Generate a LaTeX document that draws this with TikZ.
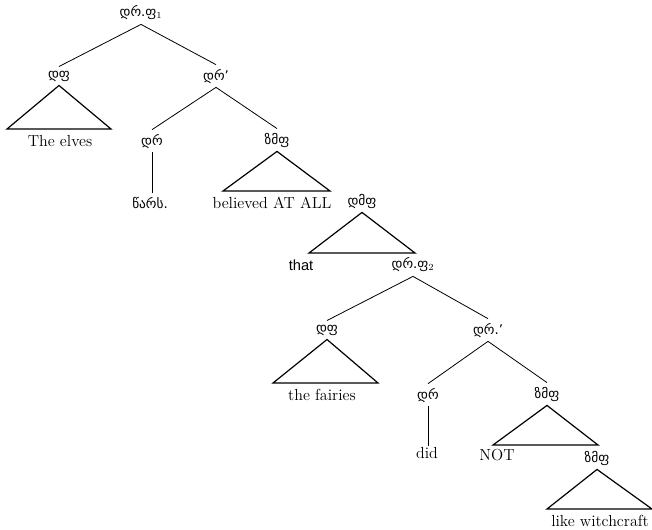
\documentclass[tikz,border=0pt]{standalone}
\usepackage{fontspec}
\newfontfamily\geo[Scale=1.0]{DejaVu Sans}
\newfontfamily\sansf{Liberation Sans}
\usetikzlibrary{positioning}
\tikzstyle{cat}    = [inner xsep=1pt, inner ysep=3pt, font=\geo]
\tikzstyle{word}   = [inner sep=1pt, font=\fontsize{12}{14}\selectfont]
\tikzstyle{branch} = [line width=0.6pt]
\tikzstyle{roof}   = [line width=0.9pt]

\begin{document}
\begin{tikzpicture}[x=0.75pt,y=-0.75pt]
		\useasboundingbox (0,0) rectangle (652,529);

		% categories
		\node[cat] (r1)   at (141,13)  {დრ.ფ$_1$};
		\node[cat] (np1)  at (59,76)   {დფ};
		\node[cat] (drp1) at (216,76)  {დრ’};
		\node[cat] (dr1)  at (152,141) {დრ};
		\node[cat] (vp1)  at (277,140) {ზმფ};
		\node[cat] (cp)   at (362,201) {დმფ};
		\node[cat] (r2)   at (413,265) {დრ.ფ$_2$};
		\node[cat] (np2)  at (327,330) {დფ};
		\node[cat] (drp2) at (488,330) {დრ.’};
		\node[cat] (dr2)  at (428,395) {დრ};
		\node[cat] (vp2)  at (547,394) {ზმფ};
		\node[cat] (vp3)  at (597,458) {ზმფ};

		% words
		\node[word] (elves)    at (60,141)  {The elves};
		\node[cat]  (past)     at (150,203) {წარს.};
		\node[word] (believed) at (272,203) {believed AT ALL};
		\node[word,font=\sansf\fontsize{11}{13}\selectfont] (that) at (301,265) {that};
		\node[word] (fairies)  at (322,395) {the fairies};
		\node[word] (did)      at (427,453) {did};
		\node[word] (notw)     at (497,455) {NOT};
		\node[word] (witch)    at (600,521) {like witchcraft};

		% roof corners
		\coordinate (np1l) at (7,129);   \coordinate (np1r) at (111,129);
		\coordinate (vp1l) at (223,191); \coordinate (vp1r) at (330,191);
		\coordinate (cpl)  at (309,253); \coordinate (cpr)  at (415,253);
		\coordinate (np2l) at (273,383); \coordinate (np2r) at (378,383);
		\coordinate (vp2l) at (493,445); \coordinate (vp2r) at (598,445);
		\coordinate (vp3l) at (547,509); \coordinate (vp3r) at (652,509);

		% branches
		\draw[branch] (np1.north) -- (r1.south) -- (drp1.north);
		\draw[branch] (dr1.north) -- (drp1.south) -- (vp1.north);
		\draw[branch] (dr1.south) -- (dr1.south |- past.north);
		\draw[branch] (np2.north) -- (r2.south) -- (drp2.north);
		\draw[branch] (dr2.north) -- (drp2.south) -- (vp2.north);
		\draw[branch] (dr2.south) -- (dr2.south |- did.north);

		% roofs
		\draw[roof] (np1.south) -- (np1l) -- (np1r) -- cycle;
		\draw[roof] (vp1.south) -- (vp1l) -- (vp1r) -- cycle;
		\draw[roof] (cp.south)  -- (cpl)  -- (cpr)  -- cycle;
		\draw[roof] (np2.south) -- (np2l) -- (np2r) -- cycle;
		\draw[roof] (vp2.south) -- (vp2l) -- (vp2r) -- cycle;
		\draw[roof] (vp3.south) -- (vp3l) -- (vp3r) -- cycle;
	\end{tikzpicture}
\end{document}
